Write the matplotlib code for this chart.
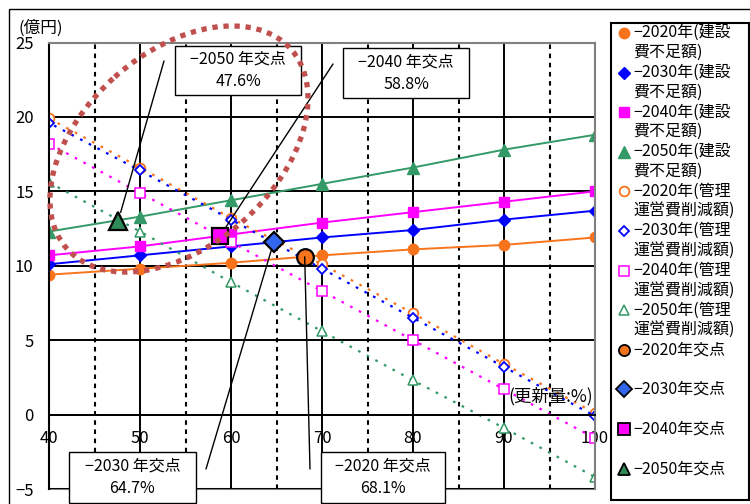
import matplotlib.pyplot as plt
from matplotlib.lines import Line2D
from matplotlib.patches import Ellipse, Rectangle
from matplotlib.transforms import Affine2D

plt.rcParams['font.family'] = ['Noto Sans CJK JP', 'DejaVu Sans']
plt.rcParams['axes.unicode_minus'] = True

W, H = 750, 504

# renewal ratio (%)
renewal = [40, 50, 60, 70, 80, 90, 100]

# construction cost shortfall (100M yen)
build_2020 = [9.4, 9.8, 10.2, 10.7, 11.1, 11.4, 11.9]
build_2030 = [10.1, 10.7, 11.3, 11.9, 12.4, 13.1, 13.7]
build_2040 = [10.7, 11.3, 12.1, 12.9, 13.6, 14.3, 15.0]
build_2050 = [12.3, 13.3, 14.4, 15.5, 16.6, 17.8, 18.8]

# management / operation cost reduction (100M yen)
mgmt_2020 = [19.9, 16.6, 13.2, 10.1, 6.8, 3.4, 0.1]
mgmt_2030 = [19.6, 16.4, 13.1, 9.8, 6.5, 3.2, -0.1]
mgmt_2040 = [18.2, 14.9, 11.6, 8.3, 5.0, 1.7, -1.6]
mgmt_2050 = [15.6, 12.3, 8.9, 5.6, 2.3, -0.9, -4.2]

# crossing points
cross_years = ['2020', '2030', '2040', '2050']
cross_x = [68.1, 64.7, 58.8, 47.6]
cross_y = [10.6, 11.6, 12.0, 13.0]

c_orange = '#F7731C'
c_blue = '#0000FF'
c_mag = '#FF00FF'
c_green = '#339966'

fig = plt.figure(figsize=(W / 100, H / 100), dpi=100)
# pixel coordinates measured from the top-left corner of the image
px = Affine2D().scale(1 / W, -1 / H).translate(0, 1) + fig.transFigure

ax = fig.add_axes([49 / W, 15 / H, 546 / W, 446.5 / H])
ax.set_xlim(40, 100)
ax.set_ylim(-5, 25)
ax.set_xticks(renewal)
ax.set_xticks([45, 55, 65, 75, 85, 95], minor=True)
ax.set_yticks([-5, 0, 5, 10, 15, 20, 25])
ax.set_yticklabels(['−5', '0', '5', '10', '15', '20', '25'])
ax.tick_params(axis='both', which='both', length=0, labelsize=12)
ax.tick_params(axis='y', pad=11)
ax.tick_params(axis='x', pad=11)
ax.spines['bottom'].set_position(('data', 0))
ax.spines['bottom'].set_color('black')
ax.spines['bottom'].set_linewidth(1.4)
ax.spines['left'].set_color('black')
ax.spines['left'].set_linewidth(1.5)
ax.spines['top'].set_color('#808080')
ax.spines['right'].set_color('#808080')
for s in ['top', 'right']:
    ax.spines[s].set_linewidth(1.5)
ax.axhline(-5, color='#808080', lw=1.5, clip_on=False, zorder=0.5)

ax.set_axisbelow(True)
ax.grid(which='major', axis='both', color='black', lw=1.4)
ax.grid(which='minor', axis='x', color='black', lw=1.5, linestyle=(0, (2.2, 2.2)))

# construction shortfall (solid)
l_b20, = ax.plot(renewal, build_2020, '-', color=c_orange, marker='o', ms=7.5, lw=1.4)
l_b30, = ax.plot(renewal, build_2030, '-', color=c_blue, marker='D', ms=6, lw=1.4)
l_b40, = ax.plot(renewal, build_2040, '-', color=c_mag, marker='s', ms=7, lw=1.4)
l_b50, = ax.plot(renewal, build_2050, '-', color=c_green, marker='^', ms=8, lw=1.4)

# management cost reduction (dotted)
dots = (0, (1.2, 3.2))
l_m20, = ax.plot(renewal, mgmt_2020, linestyle=dots, color=c_orange, lw=1.6,
                 marker='o', ms=7, mfc='white', mew=1.3)
l_m30, = ax.plot(renewal, mgmt_2030, linestyle=(1.8, (1.2, 3.2)), color=c_blue, lw=1.6,
                 marker='D', ms=5.5, mfc='white', mew=1.3)
l_m40, = ax.plot(renewal, mgmt_2040, linestyle=dots, color=c_mag, lw=1.6,
                 marker='s', ms=6.5, mfc='white', mew=1.1)
l_m50, = ax.plot(renewal, mgmt_2050, linestyle=dots, color=c_green, lw=1.6,
                 marker='^', ms=7, mfc='white', mew=1.1)

# crossing points
cross_style = [
    dict(marker='o', color=c_orange, ms=12),
    dict(marker='D', color='#3366EE', ms=10),
    dict(marker='s', color=c_mag, ms=12),
    dict(marker='^', color='#2E8B57', ms=13),
]
cross_handles = []
for cx, cy, st in zip(cross_x, cross_y, cross_style):
    h, = ax.plot([cx], [cy], linestyle='none', marker=st['marker'], ms=st['ms'],
                 mfc=st['color'], mec='black', mew=1.6, zorder=5)
    cross_handles.append(h)

# callout boxes: (box left, top, right, bottom) and leader start, in pixels
callouts = [
    ((321, 452, 445, 503), (310, 469), 0),
    ((69, 452, 196, 503), (206, 469), 6),
    ((343, 48, 469, 98), (333, 64), 8),
    ((175, 46, 301, 95), (164, 61), 6.5),
]
for (yr, cx, cy, (box, start, shrink)) in zip(cross_years, cross_x, cross_y, callouts):
    x0, y0, x1, y1 = box
    ax.add_patch(Rectangle((x0, y0), x1 - x0, y1 - y0, transform=px, fill=True,
                           facecolor='white', edgecolor='black', lw=1.0,
                           clip_on=False, zorder=6))
    ax.text((x0 + x1) / 2, (y0 + y1) / 2, f'−{yr} 年交点\n{cx:.1f}%', transform=px,
            ha='center', va='center', fontsize=11.5, linespacing=1.4,
            zorder=7, clip_on=False)
    ax.annotate('', xy=(cx, cy), xycoords='data', xytext=start, textcoords=px,
                arrowprops=dict(arrowstyle='-', color='black', lw=1.0,
                                shrinkA=0, shrinkB=shrink),
                zorder=6, annotation_clip=False)

# highlighted area
ax.add_patch(Ellipse((179, 149), 300, 193, angle=-41.7, transform=px, fill=False,
                     edgecolor='#C0504D', lw=3.8, linestyle=(0, (1, 1.1)),
                     capstyle='butt', clip_on=False, zorder=8))

ax.text(99.8, 1.2, '(更新量:%)', ha='right', va='center', fontsize=12.5, zorder=4)
fig.text(18 / W, 1 - 28 / H, '(億円)', ha='left', va='center', fontsize=12)

# outer chart frame
fig.add_artist(Rectangle((9, 9), 760, 520, transform=px, fill=False,
                         edgecolor='black', lw=1.0))

# legend
fig.add_artist(Rectangle((611, 23), 138, 477, transform=px, fill=False,
                         edgecolor='black', lw=1.5))
legend_items = [
    (l_b20, '−2020年(建設\n費不足額)'),
    (l_b30, '−2030年(建設\n費不足額)'),
    (l_b40, '−2040年(建設\n費不足額)'),
    (l_b50, '−2050年(建設\n費不足額)'),
    (l_m20, '−2020年(管理\n運営費削減額)'),
    (l_m30, '−2030年(管理\n運営費削減額)'),
    (l_m40, '−2040年(管理\n運営費削減額)'),
    (l_m50, '−2050年(管理\n運営費削減額)'),
] + [(h, f'−{yr}年交点') for h, yr in zip(cross_handles, cross_years)]

for i, (h, label) in enumerate(legend_items):
    y = 33 + 39.6 * i
    ms = min(h.get_markersize(), 8)
    fig.add_artist(Line2D([624], [y], transform=px, linestyle='none',
                          marker=h.get_marker(), ms=ms, mfc=h.get_markerfacecolor(),
                          mec=h.get_markeredgecolor(), mew=min(h.get_markeredgewidth(), 1.3)))
    two = '\n' in label
    fig.text(633 / W, 1 - (y + (9.5 if two else 0)) / H, label, ha='left', va='center',
             fontsize=11.5, linespacing=1.2)

fig.savefig('out.png', dpi=100)
